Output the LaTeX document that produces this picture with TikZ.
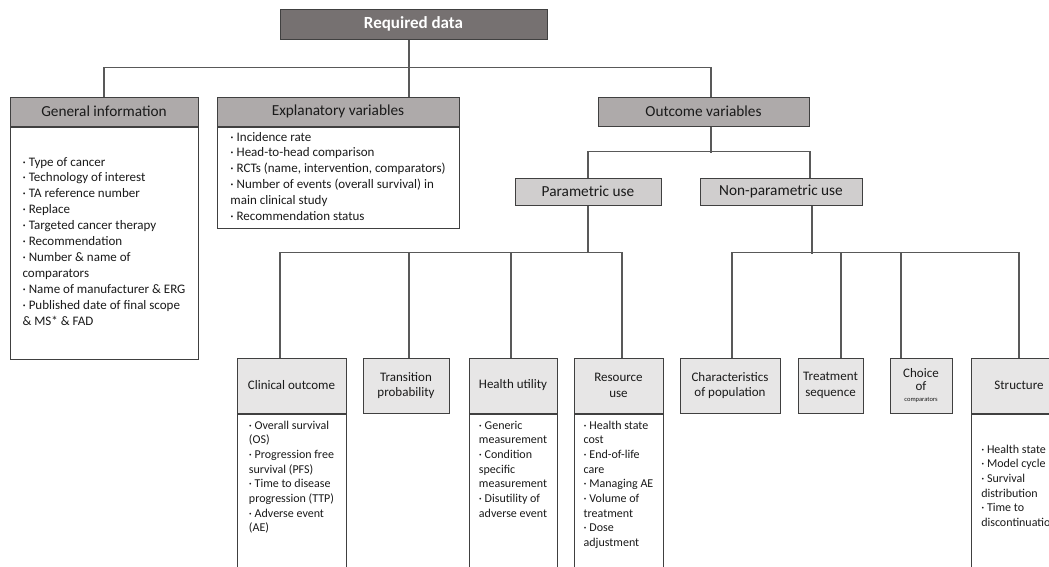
\documentclass[tikz,border=0pt]{standalone}
\usepackage{fontspec}
\setmainfont{Carlito}
\usetikzlibrary{positioning}
\definecolor{gA}{HTML}{767171}
\definecolor{gB}{HTML}{AEAAAA}
\definecolor{gC}{HTML}{D0CECE}
\definecolor{gD}{HTML}{E7E6E6}
\definecolor{edge}{HTML}{404040}
\definecolor{wire}{HTML}{595959}
\definecolor{ink}{HTML}{1A1A1A}
\newcommand{\lst}[1]{\begin{tabular}[t]{@{}l@{}}#1\end{tabular}}

\begin{document}
\begin{tikzpicture}[x=1pt,y=-1pt,
  box/.style={draw=edge,line width=1pt,rectangle,inner sep=0pt,text=ink},
  top/.style={box,fill=gA,text=white,font=\fontsize{17}{20}\bfseries\selectfont,minimum width=267pt,minimum height=30pt},
  lvA/.style={box,fill=gB,font=\fontsize{15.3}{18}\selectfont,minimum height=29pt},
  lvB/.style={box,fill=gC,font=\fontsize{15.3}{18}\selectfont,minimum height=27pt},
  lvC/.style={box,fill=gD,font=\fontsize{13}{15.8}\selectfont,minimum height=55pt,align=center},
  body/.style={box,fill=white,anchor=north,inner xsep=0pt,inner ysep=3pt},
  bigbody/.style={body,font=\fontsize{13}{15.9}\selectfont},
  smallbody/.style={body,font=\fontsize{12}{14.7}\selectfont,text height=12pt,text depth=170pt},
  link/.style={draw=wire,line width=1.2pt}]
  \useasboundingbox (0,0) rectangle (1049,566);
  \clip (0,0) rectangle (1049,566);
  \fill[white] (0,0) rectangle (1049,566);

  % top and first level
  \node[top] (req) at (413.5,24) {Required data};
  \node[lvA,minimum width=188pt] (gen) at (104,111.5) {General information};
  \node[bigbody,minimum width=188pt,text height=36pt,text depth=190pt,below=0pt of gen] (gen-b)
    {\lst{· Type of cancer\\ · Technology of interest\\ · TA reference number\\ · Replace\\
      · Targeted cancer therapy\\ · Recommendation\\ · Number \& name of\\ comparators\\
      · Name of manufacturer \& ERG\\ · Published date of final scope\\ \& MS* \& FAD}};
  \node[lvA,minimum width=242pt] (expl) at (338,111.5) {Explanatory variables};
  \node[bigbody,minimum width=242pt,text height=11pt,text depth=84pt,below=0pt of expl] (expl-b)
    {\lst{· Incidence rate\\ · Head-to-head comparison\\ · RCTs (name, intervention, comparators)\\
      · Number of events (overall survival) in\\ main clinical study\\ · Recommendation status}};
  \node[lvA,minimum width=211pt] (out) at (703.5,111.5) {Outcome variables};

  % second level
  \node[lvB,minimum width=146pt] (par) at (588,191.5) {Parametric use};
  \node[lvB,minimum width=162pt] (npar) at (781,191.5) {Non-parametric use};

  % third level
  \node[lvC,minimum width=109pt] (clin) at (291.5,385.5) {Clinical outcome};
  \node[smallbody,minimum width=109pt,below=0pt of clin] (clin-b)
    {\lst{· Overall survival\\ (OS)\\ · Progression free\\ survival (PFS)\\ · Time to disease\\
      progression (TTP)\\ · Adverse event\\ (AE)}};
  \node[lvC,minimum width=86pt] (trans) at (406,385.5) {Transition\\probability};
  \node[lvC,minimum width=88pt] (util) at (513,385.5) {Health utility};
  \node[smallbody,minimum width=88pt,below=0pt of util] (util-b)
    {\lst{· Generic\\ measurement\\ · Condition\\ specific\\ measurement\\ · Disutility of\\ adverse event}};
  \node[lvC,minimum width=89pt] (res) at (618.5,385.5) {Resource\\use};
  \node[smallbody,minimum width=89pt,below=0pt of res] (res-b)
    {\lst{· Health state\\ cost\\ · End-of-life\\ care\\ · Managing AE\\ · Volume of\\ treatment\\
      · Dose\\ adjustment}};
  \node[lvC,minimum width=100pt] (char) at (730,385.5) {Characteristics\\of population};
  \node[lvC,minimum width=65pt] (seq) at (830.5,385.5) {Treatment\\sequence};
  \node[lvC,minimum width=62pt] (choice) at (921,385.5)
    {Choice\\[-3pt]of\\[-5pt]{\fontsize{6.5}{8}\selectfont comparators}};
  \node[lvC,minimum width=96pt] (struc) at (1019,385.5) {Structure};
  \node[smallbody,minimum width=96pt,text height=36pt,below=0pt of struc] (struc-b)
    {\lst{· Health state\\ · Model cycle\\ · Survival\\ distribution\\ · Time to\\ discontinuation}};

  % connectors
  \draw[link] ([xshift=-4.5pt]req.south) -- ([xshift=-4.5pt]req.south |- expl.north);
  \draw[link] (gen.north) -- ++(0,-29) -| ([xshift=7.5pt]out.north);
  \draw[link] ([xshift=7.5pt]out.south) -- ++(0,26);
  \draw[link] (par.north) -- ++(0,-26) -| ([xshift=29pt]npar.north);
  \draw[link] (par.south) -- ++(0,47);
  \draw[link] ([xshift=-11.5pt]clin.north) -- ++(0,-105) -| ([xshift=3.5pt]res.north);
  \draw[link] ([xshift=3pt]trans.north) -- ++(0,-105);
  \draw[link] ([xshift=-2pt]util.north) -- ++(0,-105);
  \draw[link] ([xshift=31pt]npar.south) -- ++(0,48);
  \draw[link] ([xshift=2pt]char.north) -- ++(0,-105) -| (struc.north);
  \draw[link] ([xshift=10.5pt]seq.north) -- ++(0,-105);
  \draw[link] ([xshift=-20pt]choice.north) -- ++(0,-105);
\end{tikzpicture}
\end{document}
